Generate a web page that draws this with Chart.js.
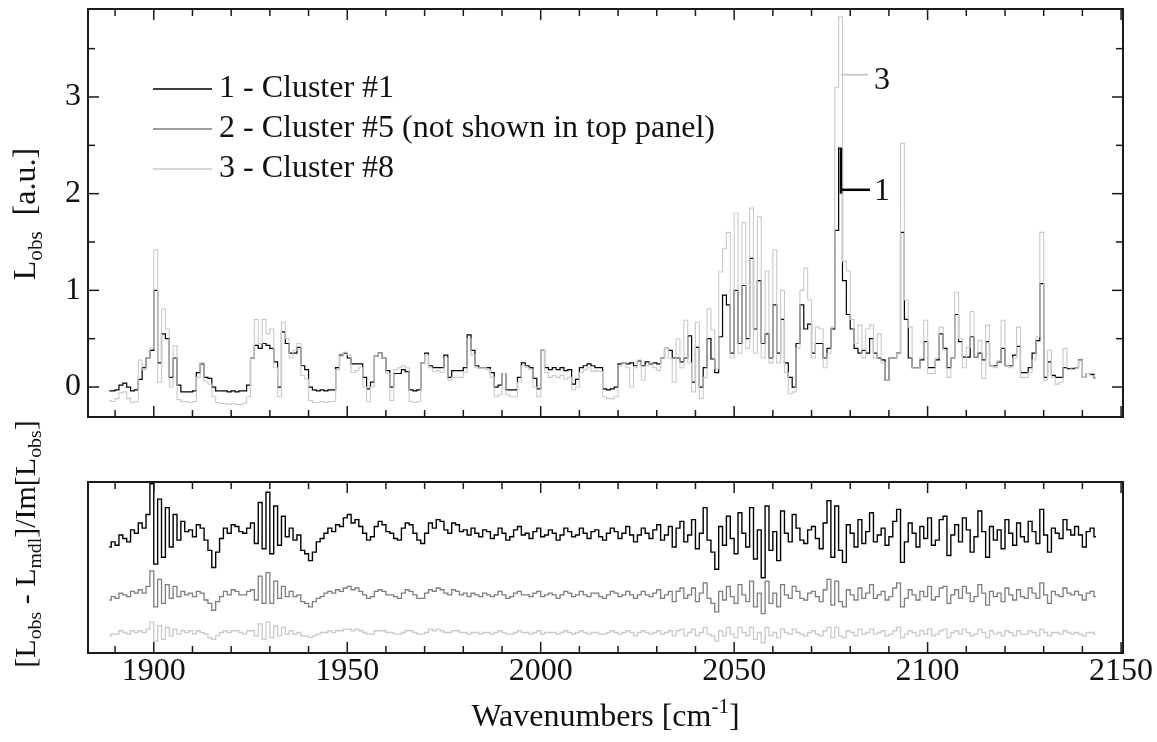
<!DOCTYPE html>
<html>
<head>
<meta charset="utf-8">
<script src="https://cdn.jsdelivr.net/npm/chart.js@4.4.1/dist/chart.umd.min.js"></script>
<style>
    html, body { margin: 0; padding: 0; background: #fff; }
    #wrap { position: relative; width: 1157px; height: 742px; overflow: hidden; }
    #topChart { position: absolute; left: 0; top: 0; }
    #bottomChart { position: absolute; left: 0; top: 400px; }
</style>
</head>
<body>
<div id="wrap">
    <canvas id="topChart" width="1157" height="440"></canvas>
    <canvas id="bottomChart" width="1157" height="342"></canvas>
</div>
<script>
// spectrum grid: 1 cm-1 steps starting at 1888.5 cm-1
const firstWavenumber = 1888.5;

// top panel, L_obs [a.u.]
const obsCluster1 = [
    -0.04, -0.04, -0.03, 0.02, 0.04, 0.0, -0.04, -0.03, 0.08, 0.2,
    0.3, 0.38, 1.0, 0.25, 0.55, 0.5, 0.1, 0.3, 0.02, -0.05,
    -0.05, -0.05, -0.04, 0.15, 0.24, 0.1, 0.09, 0.0, -0.04, -0.04,
    -0.04, -0.05, -0.04, -0.05, -0.04, -0.04, 0.02, 0.3, 0.43, 0.4,
    0.45, 0.43, 0.4, 0.26, 0.0, 0.57, 0.45, 0.35, 0.35, 0.41,
    0.22, 0.18, 0.0, -0.03, -0.04, -0.03, -0.04, -0.03, -0.03, 0.2,
    0.33, 0.35, 0.3, 0.24, 0.24, 0.24, 0.1, -0.02, 0.05, 0.32,
    0.35, 0.3, 0.17, 0.0, 0.14, 0.14, 0.18, 0.16, -0.03, -0.04,
    -0.03, 0.25, 0.35, 0.22, 0.2, 0.2, 0.2, 0.33, 0.1, 0.17,
    0.17, 0.17, 0.2, 0.54, 0.38, 0.22, 0.2, 0.2, 0.2, 0.15,
    0.0, 0.02, 0.14, -0.03, -0.03, -0.03, 0.1, 0.25, 0.22, 0.2,
    0.09, -0.02, 0.38, 0.2, 0.18, 0.2, 0.18, 0.2, 0.17, 0.18,
    0.03, 0.08, 0.2, 0.22, 0.24, 0.22, 0.2, 0.2, -0.02, -0.03,
    -0.02, 0.0, 0.24, 0.25, 0.24, 0.25, 0.22, 0.27, 0.22, 0.26,
    0.24, 0.25, 0.24, 0.3, 0.4, 0.38, 0.3, 0.3, 0.26, 0.3,
    0.53, 0.05, 0.41, 0.0, 0.2, 0.5, 0.29, 0.15, 0.52, 0.95,
    0.85, 0.35, 1.0, 0.45, 1.05, 0.5, 1.33, 0.6, 1.1, 0.45,
    0.55, 0.3, 0.85, 0.35, 0.7, 0.25, 0.1, 0.0, 0.45, 0.85,
    0.6, 0.65, 0.35, 0.45, 0.45, 0.3, 0.4, 0.6, 1.62, 2.47,
    1.1, 0.75, 0.6, 0.4, 0.35, 0.38, 0.35, 0.5, 0.35, 0.3,
    0.28, 0.07, 0.3, 0.3, 0.35, 1.6, 0.7, 0.3, 0.2, 0.2,
    0.28, 0.47, 0.2, 0.2, 0.28, 0.55, 0.4, 0.2, 0.3, 0.75,
    0.47, 0.31, 0.31, 0.52, 0.31, 0.35, 0.28, 0.47, 0.22, 0.22,
    0.26, 0.4, 0.22, 0.22, 0.33, 0.42, 0.15, 0.15, 0.2, 0.35,
    0.48, 1.07, 0.1, 0.26, 0.12, 0.1, 0.1, 0.2, 0.19, 0.19,
    0.2, 0.28, 0.1, 0.14, 0.13, 0.09
];

const obsCluster8 = [
    -0.14, -0.15, -0.12, -0.06, -0.05, -0.12, -0.16, -0.15, 0.28, 0.18,
    0.3, 0.4, 1.42, 0.05, 0.81, 0.6, 0.0, 0.43, -0.13, -0.15,
    -0.15, -0.16, -0.15, 0.1, 0.25, 0.06, 0.03, -0.1, -0.16, -0.17,
    -0.17, -0.18, -0.17, -0.18, -0.18, -0.17, -0.1, 0.3, 0.7, 0.45,
    0.7, 0.55, 0.6, 0.2, -0.1, 0.67, 0.5, 0.3, 0.38, 0.45,
    0.12, 0.08, -0.14, -0.16, -0.16, -0.15, -0.16, -0.15, -0.15, 0.18,
    0.32, 0.36, 0.33, 0.15, 0.17, 0.2, 0.0, -0.15, 0.0, 0.32,
    0.35, 0.3, 0.14, -0.14, 0.18, 0.2, 0.22, 0.2, -0.15, -0.16,
    -0.15, 0.25, 0.33, 0.2, 0.16, 0.17, 0.15, 0.3, 0.07, 0.1,
    0.1, 0.1, 0.15, 0.5, 0.33, 0.2, 0.2, 0.2, 0.18, 0.1,
    -0.1, -0.08, 0.14, -0.08, -0.1, -0.1, 0.05, 0.22, 0.2, 0.18,
    0.0, -0.1, 0.38, 0.15, 0.1, 0.12, 0.1, 0.12, 0.08, 0.1,
    -0.03, 0.0, 0.15, 0.18, 0.2, 0.16, 0.17, 0.16, -0.1, -0.12,
    -0.12, -0.1, 0.22, 0.25, 0.2, 0.0, 0.2, 0.28, 0.07, 0.22,
    0.25, 0.2, 0.17, 0.3, 0.4, 0.3, 0.05, 0.5, 0.2, 0.69,
    0.25, -0.05, 0.67, -0.12, 0.1, 0.81, 0.59, 0.19, 1.19, 1.43,
    1.6, 0.3, 1.8, 0.35, 1.7, 0.4, 1.85, 0.35, 1.76, 0.3,
    1.2, 0.25, 1.42, 0.25, 1.0, 0.15, -0.07, -0.05, 0.4, 1.0,
    1.23, 0.9, 0.3, 0.62, 0.6, 0.2, 0.35, 0.62, 3.1, 3.83,
    1.3, 1.2, 0.7, 0.45, 0.64, 0.3, 0.6, 0.64, 0.3, 0.55,
    0.25, 0.07, 0.3, 0.3, 0.35, 2.52, 0.9, 0.62, 0.2, 0.2,
    0.3, 0.69, 0.14, 0.14, 0.3, 0.62, 0.38, 0.1, 0.3, 0.98,
    0.5, 0.2, 0.41, 0.78, 0.31, 0.48, 0.09, 0.64, 0.22, 0.2,
    0.27, 0.69, 0.22, 0.2, 0.3, 0.62, 0.1, 0.1, 0.15, 0.28,
    0.52, 1.6, 0.07, 0.38, 0.1, 0.03, 0.05, 0.4, 0.18, 0.2,
    0.2, 0.28, 0.1, 0.14, 0.12, 0.09
];

// bottom panel, normalised residuals (each cluster on its own offset, arbitrary units)
const resCluster1 = [
    6.2, 6.5, 6.3, 6.9, 6.7, 6.5, 7.2, 7.0, 7.6, 7.3,
    8.1, 9.9, 5.2, 9.0, 5.6, 8.5, 6.2, 8.1, 6.6, 7.7,
    7.1, 7.2, 6.8, 7.5, 7.3, 6.6, 6.0, 5.0, 5.9, 6.7,
    7.3, 7.0, 7.5, 7.4, 7.1, 7.0, 7.3, 7.6, 6.4, 8.8,
    6.1, 9.4, 5.8, 8.6, 6.3, 8.0, 6.8, 7.3, 6.6, 6.9,
    6.0, 5.8, 5.4, 5.9, 6.5, 6.7, 7.0, 7.3, 7.1, 7.5,
    7.4, 7.9, 8.1, 7.6, 7.8, 7.4, 7.0, 6.6, 6.8, 7.4,
    7.7, 7.5, 7.1, 7.0, 6.7, 6.6, 7.3, 7.6, 7.5, 7.0,
    6.6, 6.4, 7.0, 7.6, 7.3, 7.8, 7.7, 7.2, 7.0, 7.6,
    7.5, 7.1, 7.2, 6.9, 7.3, 7.0, 6.8, 7.2, 7.1, 6.7,
    6.9, 7.3, 7.0, 6.6, 6.8, 7.2, 7.4, 6.9, 7.0, 6.7,
    7.1, 7.3, 6.8, 6.9, 7.2, 7.0, 6.6, 6.9, 7.3, 7.1,
    6.8, 6.9, 7.3, 7.0, 6.7, 7.1, 7.2, 6.8, 6.6, 7.0,
    7.3, 7.1, 6.7, 7.0, 7.4, 6.9, 6.5, 6.9, 7.3, 7.0,
    6.7, 7.2, 7.5, 6.6, 6.9, 7.4, 6.2, 7.3, 7.7, 6.5,
    6.9, 7.8, 6.1, 7.0, 8.5, 6.6, 5.9, 4.9, 7.4, 6.3,
    8.0, 6.7, 5.8, 8.2, 7.0, 6.2, 8.5, 5.5, 7.2, 4.4,
    8.6, 6.0, 7.1, 5.4, 8.3, 7.0, 6.5, 8.1, 7.3, 6.6,
    6.4, 7.2, 7.4, 6.7, 6.1, 7.6, 8.9, 5.6, 8.6, 6.0,
    5.3, 7.5, 7.0, 6.2, 7.8, 6.4, 7.1, 8.2, 6.5, 6.9,
    7.3, 6.3, 6.8, 7.7, 8.4, 5.3, 6.5, 7.6, 7.0, 6.2,
    7.4, 6.7, 7.9, 6.3, 6.6, 7.8, 8.0, 5.7, 6.9, 7.5,
    6.5, 7.9, 7.2, 5.9, 6.8, 8.3, 7.1, 5.6, 7.4, 6.6,
    7.2, 6.1, 7.8, 7.0, 6.3, 7.6, 6.8, 6.5, 7.7, 7.1,
    6.4, 8.4, 6.9, 5.9, 7.3, 7.0, 6.7, 7.8, 7.2, 6.9,
    7.4, 6.9, 6.2, 7.1, 7.3, 6.8
];

const resCluster5 = [
    3.1, 3.3, 3.2, 3.5, 3.4, 3.3, 3.6, 3.5, 3.7, 3.5,
    3.9, 4.8, 2.7, 4.3, 2.9, 4.0, 3.2, 3.9, 3.3, 3.6,
    3.4, 3.5, 3.3, 3.6, 3.5, 3.1, 2.9, 2.5, 3.0, 3.3,
    3.6, 3.4, 3.7, 3.6, 3.4, 3.4, 3.6, 3.7, 3.1, 4.5,
    2.9, 4.7, 2.9, 4.2, 3.2, 3.9, 3.3, 3.6, 3.3, 3.4,
    3.0, 2.9, 2.7, 3.0, 3.2, 3.3, 3.5, 3.6, 3.5, 3.7,
    3.6, 3.8, 3.9, 3.7, 3.8, 3.6, 3.4, 3.2, 3.3, 3.6,
    3.7, 3.6, 3.4, 3.4, 3.3, 3.2, 3.5, 3.7, 3.6, 3.4,
    3.2, 3.2, 3.5, 3.7, 3.6, 3.8, 3.7, 3.5, 3.4, 3.7,
    3.6, 3.4, 3.5, 3.3, 3.5, 3.4, 3.3, 3.5, 3.4, 3.3,
    3.4, 3.6, 3.4, 3.2, 3.3, 3.5, 3.6, 3.4, 3.4, 3.3,
    3.5, 3.6, 3.3, 3.4, 3.5, 3.4, 3.2, 3.4, 3.6, 3.5,
    3.3, 3.4, 3.6, 3.4, 3.3, 3.5, 3.5, 3.3, 3.2, 3.4,
    3.6, 3.5, 3.3, 3.4, 3.6, 3.4, 3.2, 3.4, 3.6, 3.4,
    3.3, 3.5, 3.7, 3.2, 3.4, 3.6, 3.0, 3.6, 3.8, 3.2,
    3.4, 3.8, 3.0, 3.5, 4.1, 3.2, 2.9, 2.4, 3.6, 3.1,
    3.9, 3.3, 2.9, 4.0, 3.4, 3.0, 4.2, 2.7, 3.5, 2.3,
    4.2, 2.9, 3.5, 2.7, 4.0, 3.4, 3.2, 3.9, 3.6, 3.2,
    3.1, 3.5, 3.6, 3.3, 3.0, 3.7, 4.3, 2.8, 4.2, 3.0,
    2.7, 3.7, 3.4, 3.1, 3.8, 3.2, 3.5, 4.0, 3.2, 3.4,
    3.6, 3.1, 3.3, 3.8, 4.1, 2.7, 3.2, 3.7, 3.4, 3.1,
    3.6, 3.3, 3.9, 3.1, 3.3, 3.8, 3.9, 2.9, 3.4, 3.7,
    3.2, 3.9, 3.5, 3.0, 3.3, 4.0, 3.5, 2.8, 3.6, 3.3,
    3.5, 3.0, 3.8, 3.4, 3.1, 3.7, 3.3, 3.2, 3.8, 3.5,
    3.2, 4.1, 3.4, 2.9, 3.6, 3.4, 3.3, 3.8, 3.5, 3.4,
    3.6, 3.4, 3.1, 3.5, 3.6, 3.3
];

const resCluster8 = [
    1.0, 1.1, 1.1, 1.3, 1.2, 1.1, 1.3, 1.2, 1.3, 1.2,
    1.4, 1.8, 0.7, 1.6, 0.8, 1.5, 1.0, 1.4, 1.1, 1.3,
    1.2, 1.3, 1.1, 1.3, 1.2, 1.1, 0.9, 0.8, 1.0, 1.2,
    1.3, 1.2, 1.3, 1.3, 1.2, 1.1, 1.3, 1.3, 1.0, 1.7,
    0.8, 1.8, 0.9, 1.6, 1.0, 1.5, 1.1, 1.3, 1.1, 1.2,
    1.0, 1.0, 0.9, 1.0, 1.1, 1.2, 1.2, 1.3, 1.2, 1.3,
    1.3, 1.4, 1.4, 1.3, 1.4, 1.3, 1.2, 1.1, 1.1, 1.3,
    1.3, 1.3, 1.2, 1.2, 1.1, 1.1, 1.2, 1.3, 1.3, 1.2,
    1.1, 1.1, 1.2, 1.4, 1.3, 1.4, 1.3, 1.2, 1.2, 1.3,
    1.3, 1.2, 1.2, 1.1, 1.2, 1.2, 1.1, 1.2, 1.2, 1.1,
    1.2, 1.3, 1.2, 1.1, 1.1, 1.2, 1.3, 1.2, 1.2, 1.1,
    1.2, 1.3, 1.1, 1.2, 1.2, 1.2, 1.1, 1.2, 1.3, 1.2,
    1.1, 1.2, 1.3, 1.2, 1.1, 1.2, 1.2, 1.1, 1.1, 1.2,
    1.3, 1.2, 1.1, 1.2, 1.3, 1.2, 1.0, 1.2, 1.3, 1.2,
    1.1, 1.2, 1.3, 1.1, 1.2, 1.3, 1.0, 1.3, 1.4, 1.0,
    1.2, 1.4, 1.0, 1.2, 1.5, 1.1, 1.0, 0.7, 1.3, 1.0,
    1.5, 1.1, 0.9, 1.5, 1.2, 1.0, 1.5, 0.8, 1.2, 0.6,
    1.5, 1.0, 1.2, 0.9, 1.4, 1.2, 1.1, 1.4, 1.2, 1.1,
    1.0, 1.2, 1.3, 1.1, 1.0, 1.3, 1.5, 0.9, 1.5, 1.0,
    0.9, 1.3, 1.2, 1.0, 1.4, 1.1, 1.2, 1.4, 1.1, 1.2,
    1.3, 1.0, 1.1, 1.3, 1.5, 0.9, 1.1, 1.3, 1.2, 1.0,
    1.3, 1.1, 1.4, 1.0, 1.1, 1.3, 1.4, 0.9, 1.2, 1.3,
    1.1, 1.4, 1.2, 1.0, 1.1, 1.4, 1.2, 0.9, 1.3, 1.1,
    1.2, 1.0, 1.3, 1.2, 1.0, 1.3, 1.1, 1.1, 1.3, 1.2,
    1.0, 1.4, 1.2, 1.0, 1.2, 1.2, 1.1, 1.3, 1.2, 1.1,
    1.2, 1.1, 1.0, 1.2, 1.2, 1.1
];

const xMajorTicks = [1900, 1950, 2000, 2050, 2100, 2150];
const xMinorTicks = [1890, 1910, 1920, 1930, 1940, 1960, 1970, 1980, 1990, 2010, 2020, 2030,
    2040, 2060, 2070, 2080, 2090, 2110, 2120, 2130, 2140];
const yMajorTicks = [0, 1, 2, 3];
const yMinorTicks = [-0.5, 0.5, 1.5, 2.5, 3.5];

const legendLabels = [
    "1 - Cluster #1",
    "2 - Cluster #5 (not shown in top panel)",
    "3 - Cluster #8"
];
const clusterColors = ["#000000", "#7d7d7d", "#c9c9c9"];

const wavenumbers = obsCluster1.map((_, i) => firstWavenumber + i);
const toPoints = (values) => values.map((v, i) => ({ x: wavenumbers[i], y: v }));

const FONT = '"Liberation Serif", "Times New Roman", serif';
const TEXT_COLOR = "#111";

function drawRuns(ctx, runs, x, y, size, align, rotated) {
    const parts = runs.map((r) => {
        const s = (r.sub || r.sup) ? size * 0.66 : size;
        ctx.font = s + "px " + FONT;
        return {
            t: r.t,
            s: s,
            w: ctx.measureText(r.t).width,
            dy: r.sub ? size * 0.3 : (r.sup ? -size * 0.32 : 0)
        };
    });
    const total = parts.reduce((a, p) => a + p.w, 0);

    ctx.save();
    ctx.translate(x, y);
    if (rotated) {
        ctx.rotate(-Math.PI / 2);
    }
    let cx = align === "center" ? -total / 2 : (align === "right" ? -total : 0);
    ctx.fillStyle = TEXT_COLOR;
    ctx.textAlign = "left";
    ctx.textBaseline = "middle";
    parts.forEach((p) => {
        ctx.font = p.s + "px " + FONT;
        ctx.fillText(p.t, cx, p.dy);
        cx += p.w;
    });
    ctx.restore();
}

function strokeLine(ctx, x1, y1, x2, y2) {
    ctx.beginPath();
    ctx.moveTo(x1, y1);
    ctx.lineTo(x2, y2);
    ctx.stroke();
}

// frame with inward ticks on the chart area
const framePlugin = {
    id: "frame",
    afterDatasetsDraw(chart, args, opts) {
        const { ctx, chartArea: a, scales } = chart;
        const x = scales.x;
        const y = scales.y;

        ctx.save();
        ctx.strokeStyle = "#1a1a1a";
        ctx.lineWidth = 1.5;

        const xTick = (v, len) => {
            const px = x.getPixelForValue(v);
            strokeLine(ctx, px, a.bottom, px, a.bottom - len);
            strokeLine(ctx, px, a.top, px, a.top + len);
        };
        xMajorTicks.forEach((v) => xTick(v, 11));
        xMinorTicks.forEach((v) => xTick(v, 7));

        if (opts.yTicks) {
            const yTick = (v, len) => {
                const py = y.getPixelForValue(v);
                if (py < a.top || py > a.bottom) {
                    return;
                }
                strokeLine(ctx, a.left, py, a.left + len, py);
                strokeLine(ctx, a.right, py, a.right - len, py);
            };
            yMajorTicks.forEach((v) => yTick(v, 11));
            yMinorTicks.forEach((v) => yTick(v, 7));
        }

        ctx.lineWidth = 2;
        ctx.strokeRect(a.left, a.top, a.width, a.height);
        ctx.restore();
    }
};

// axis labels, legend and the two peak markers of the top panel
const topTextPlugin = {
    id: "topText",
    afterDraw(chart) {
        const { ctx, scales: { x, y } } = chart;

        yMajorTicks.forEach((v) => {
            drawRuns(ctx, [{ t: String(v) }], 81, y.getPixelForValue(v), 32, "right", false);
        });

        drawRuns(ctx, [{ t: "L" }, { t: "obs", sub: true }, { t: "  [a.u.]" }], 27, 214, 32, "center", true);

        const rowY = [89, 129, 169];
        legendLabels.forEach((label, i) => {
            ctx.save();
            ctx.strokeStyle = clusterColors[i];
            ctx.lineWidth = 1.5;
            strokeLine(ctx, 153, rowY[i], 212, rowY[i]);
            ctx.restore();
            drawRuns(ctx, [{ t: label }], 219, rowY[i], 32, "left", false);
        });

        const peakX = x.getPixelForValue(2077.6);
        ctx.save();
        ctx.strokeStyle = clusterColors[2];
        ctx.lineWidth = 2;
        strokeLine(ctx, peakX, y.getPixelForValue(3.23), peakX + 27, y.getPixelForValue(3.23));
        ctx.strokeStyle = clusterColors[0];
        ctx.lineWidth = 2.5;
        strokeLine(ctx, peakX, y.getPixelForValue(2.47), peakX, y.getPixelForValue(2.0));
        strokeLine(ctx, peakX, y.getPixelForValue(2.04), peakX + 29, y.getPixelForValue(2.04));
        ctx.restore();
        drawRuns(ctx, [{ t: "3" }], peakX + 33, y.getPixelForValue(3.23) + 6, 32, "left", false);
        drawRuns(ctx, [{ t: "1" }], peakX + 33, y.getPixelForValue(2.04) + 2, 32, "left", false);
    }
};

const bottomTextPlugin = {
    id: "bottomText",
    afterDraw(chart) {
        const { ctx, chartArea: a, scales: { x } } = chart;

        xMajorTicks.forEach((v) => {
            drawRuns(ctx, [{ t: String(v) }], x.getPixelForValue(v), 272, 32, "center", false);
        });

        drawRuns(ctx, [{ t: "Wavenumbers [cm" }, { t: "-1", sup: true }, { t: "]" }],
            (a.left + a.right) / 2, 318, 32, "center", false);

        drawRuns(ctx, [
            { t: "[L" }, { t: "obs", sub: true }, { t: " - L" }, { t: "mdl", sub: true },
            { t: "]/Im[L" }, { t: "obs", sub: true }, { t: "]" }
        ], 27, 144, 30, "center", true);
    }
};

const xScale = { type: "linear", display: false, min: 1883, max: 2150.5 };

function lineSet(values, color, width, order) {
    return {
        data: toPoints(values),
        borderColor: color,
        borderWidth: width,
        pointRadius: 0,
        stepped: "middle",
        fill: false,
        order: order
    };
}

new Chart(document.getElementById("topChart"), {
    type: "line",
    data: {
        datasets: [
            lineSet(obsCluster8, clusterColors[2], 1.1, 0),
            lineSet(obsCluster1, clusterColors[0], 1.2, 1)
        ]
    },
    options: {
        responsive: false,
        animation: false,
        events: [],
        layout: { padding: { left: 88, right: 34, top: 9, bottom: 23 } },
        scales: {
            x: xScale,
            y: { type: "linear", display: false, min: -0.31, max: 3.91 }
        },
        plugins: {
            legend: { display: false },
            tooltip: { enabled: false },
            frame: { yTicks: true }
        }
    },
    plugins: [framePlugin, topTextPlugin]
});

new Chart(document.getElementById("bottomChart"), {
    type: "line",
    data: {
        datasets: [
            lineSet(resCluster1, clusterColors[0], 1.4, 0),
            lineSet(resCluster5, clusterColors[1], 1.3, 1),
            lineSet(resCluster8, clusterColors[2], 1.3, 2)
        ]
    },
    options: {
        responsive: false,
        animation: false,
        events: [],
        layout: { padding: { left: 88, right: 34, top: 82, bottom: 89 } },
        scales: {
            x: xScale,
            y: { type: "linear", display: false, min: 0, max: 10 }
        },
        plugins: {
            legend: { display: false },
            tooltip: { enabled: false },
            frame: { yTicks: false }
        }
    },
    plugins: [framePlugin, bottomTextPlugin]
});
</script>
</body>
</html>
